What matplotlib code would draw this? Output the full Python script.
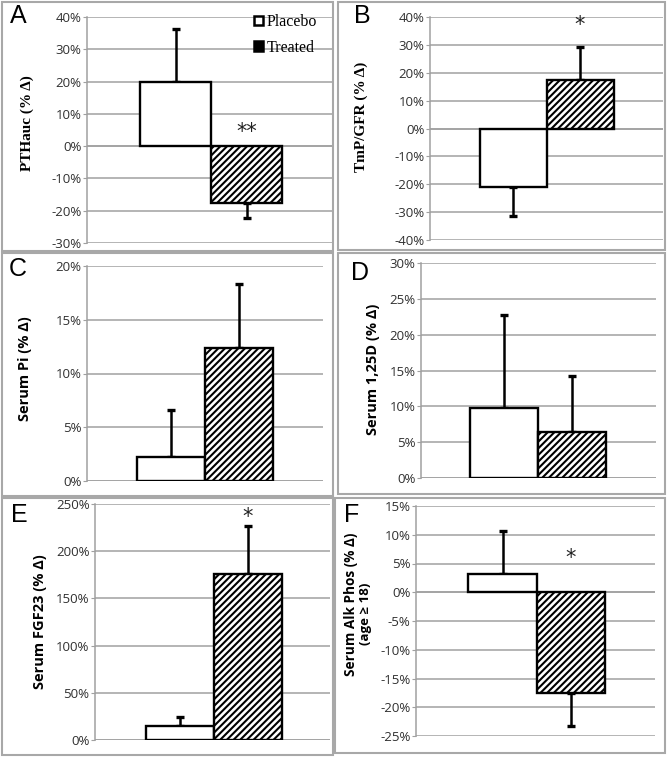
import matplotlib
matplotlib.use('Agg')
import matplotlib.pyplot as plt
from matplotlib.patches import Patch, Rectangle
from matplotlib.ticker import FuncFormatter, MultipleLocator

# ---------------- data ----------------
letters = ['A', 'B', 'C', 'D', 'E', 'F']
ylabels = ['PTHauc (% Δ)', 'TmP/GFR (% Δ)', 'Serum Pi (% Δ)',
           'Serum 1,25D (% Δ)', 'Serum FGF23 (% Δ)', 'Serum Alk Phos (% Δ)']
ylabel_extra = ['', '', '', '', '', '(age ≥ 18)']
groups = ['Placebo', 'Treated']
placebo_mean = [20.0, -21.0, 2.2, 9.7, 15.0, 3.1]
placebo_err = [16.3, 10.3, 4.4, 13.1, 9.5, 7.6]
treated_mean = [-17.6, 17.3, 12.4, 6.4, 176.0, -17.6]
treated_err = [4.6, 12.0, 5.9, 7.8, 51.0, 5.7]
y_min = [-30, -40, 0, 0, 0, -25]
y_max = [40, 40, 20, 30, 250, 15]
y_step = [10, 10, 5, 5, 50, 5]
signif = ['**', '*', '', '', '*', '*']
signif_y = [4.5, 37, 0, 0, 236, 6.0]

# ---------------- layout (pixels) ----------------
W, H = 667, 758
# axes: left, right, top, bottom ; bars: left, mid, right
ax_px = [(87, 333, 17, 243), (430, 663, 17, 240), (87, 323, 266, 481),
         (421, 656, 263, 478), (95, 330, 504, 740), (416, 655, 506, 736)]
bar_px = [(140, 211, 282), (479, 547, 613), (137, 204, 273),
          (470, 538, 606), (146, 213, 282), (468, 537, 605)]
frames_px = [(2, 333, 2, 251), (338, 665, 2, 250), (2, 333, 253, 496),
             (338, 665, 253, 494), (2, 333, 498, 755), (335, 665, 498, 753)]
letter_px = [(18, 16), (362, 16), (18, 269), (360, 273), (19, 515), (352, 515)]
ylabel_px = [(27, 123), (361, 117), (25, 369), (373, 369), (40, 622), (351, 604)]
ylabel_size = [11, 11, 10.5, 10.5, 10.5, 9.8]
serif_label = [True, True, False, False, False, False]

plt.rcParams['hatch.linewidth'] = 1.5
fig = plt.figure(figsize=(W / 100, H / 100), dpi=100)

def fx(px):
    return px / W

def fy(py):
    return 1 - py / H

for (l, r, t, b) in frames_px:
    fig.patches.append(Rectangle((fx(l), fy(b)), fx(r) - fx(l), fy(t) - fy(b),
                                 transform=fig.transFigure, fill=False,
                                 ec='#a8a8a8', lw=1.5, zorder=0))

tick_font = ['Open Sans', 'DejaVu Sans']
grid_col = '#a0a0a0'

for i in range(6):
    l, r, t, b = ax_px[i]
    ax = fig.add_axes([fx(l), fy(b), fx(r) - fx(l), fy(t) - fy(b)])
    bl, bm, br = bar_px[i]
    c0 = (bl + bm) / 2
    unit = (br - bl) / 2
    ax.set_xlim((l - c0) / unit, (r - c0) / unit)
    ax.set_ylim(y_min[i], y_max[i])
    ax.yaxis.set_major_locator(MultipleLocator(y_step[i]))
    ax.yaxis.set_major_formatter(FuncFormatter(lambda v, p: f'{int(round(v))}%'))
    ax.yaxis.grid(True, color=grid_col, lw=1.1)
    ax.set_axisbelow(True)
    for s in ['top', 'right', 'bottom']:
        ax.spines[s].set_visible(False)
    ax.spines['left'].set_color(grid_col)
    ax.spines['left'].set_linewidth(1.1)
    ax.set_xticks([])
    ax.tick_params(axis='y', length=3, color=grid_col, pad=1, labelsize=9.5,
                   labelcolor='#303030')
    for lab in ax.get_yticklabels():
        lab.set_family(tick_font)
    ax.patch.set_alpha(0)

    means = [placebo_mean[i], treated_mean[i]]
    errs = [placebo_err[i], treated_err[i]]
    hatches = ['', '/////']
    for k in range(2):
        m, e = means[k], errs[k]
        yerr = [[0], [e]] if m >= 0 else [[e], [0]]
        ax.errorbar([k], [m], yerr=yerr, fmt='none', ecolor='black',
                    elinewidth=1.8, capsize=3, capthick=2.4, zorder=2)
        ax.bar([k], [m], width=1.0, color='white', edgecolor='black',
               linewidth=1.7, hatch=hatches[k], zorder=3, label=groups[k])
    ax.axhline(0, color=grid_col, lw=1.1, zorder=1)

    if signif[i]:
        ax.text(1, signif_y[i], signif[i], ha='center', va='center',
                fontsize=15, family='DejaVu Sans', color='#222222', zorder=5)

    # panel letter
    lx, ly = letter_px[i]
    fig.text(fx(lx), fy(ly), letters[i], ha='center', va='center',
             fontsize=18, family='Liberation Sans')

    # y label
    yx, yy = ylabel_px[i]
    if serif_label[i]:
        fig.text(fx(yx), fy(yy), ylabels[i], rotation=90, ha='center',
                 va='center', fontsize=ylabel_size[i], weight='bold',
                 family=['Liberation Serif', 'DejaVu Serif'])
    else:
        fig.text(fx(yx), fy(yy), ylabels[i], rotation=90, ha='center',
                 va='center', fontsize=ylabel_size[i], weight='bold',
                 family=['Open Sans', 'DejaVu Sans'])
    if ylabel_extra[i]:
        fig.text(fx(yx + 14), fy(yy + 10), ylabel_extra[i], rotation=90,
                 ha='center', va='center', fontsize=9.5, weight='bold',
                 family=['Open Sans', 'DejaVu Sans'])

    if i == 0:
        handles = [Patch(facecolor='white', edgecolor='black', lw=1.8, label=groups[0]),
                   Patch(facecolor='black', edgecolor='black', lw=1.8,
                         label=groups[1])]
        leg = ax.legend(handles=handles, loc='upper left',
                        bbox_to_anchor=(fx(254), fy(14)),
                        bbox_transform=fig.transFigure, frameon=False,
                        prop={'family': 'Liberation Serif', 'size': 11.5},
                        handlelength=0.55, handleheight=0.55, handletextpad=0.25,
                        labelspacing=0.6, borderaxespad=0, borderpad=0)

fig.savefig('out.png', dpi=100)
